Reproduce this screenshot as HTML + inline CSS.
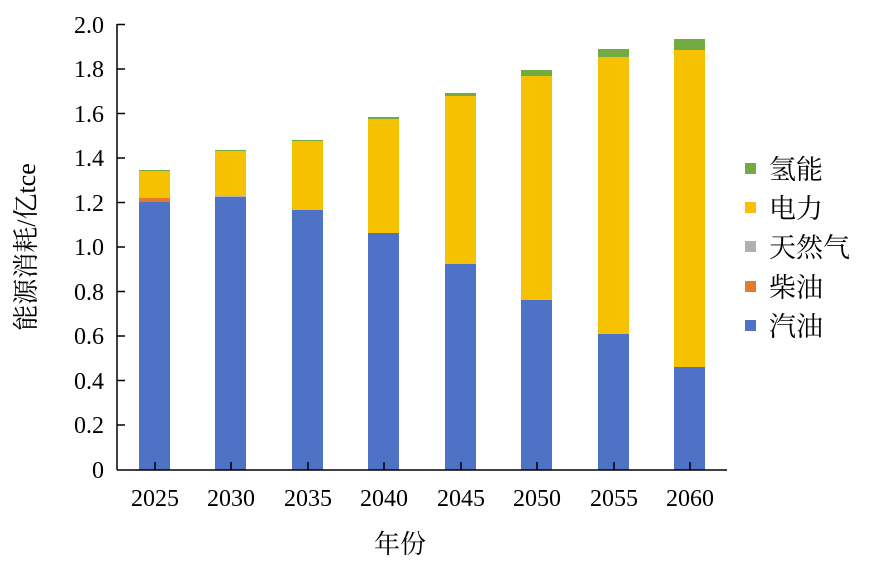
<!DOCTYPE html>
<html><head><meta charset="utf-8"><style>
body{margin:0;background:#fff}
svg text{fill:#000}
.n{font-family:"Liberation Serif","DejaVu Serif","Noto Serif CJK SC",serif}
.c{font-family:"Liberation Serif","Noto Serif CJK SC","Noto Sans CJK SC",serif}
</style></head><body>
<svg width="870" height="564" xmlns="http://www.w3.org/2000/svg">
<g>
<rect x="139" y="202" width="31" height="268" fill="#4e72c6"/>
<rect x="139" y="198" width="31" height="4" fill="#e37b2b"/>
<rect x="139" y="171" width="31" height="27" fill="#f6c100"/>
<rect x="139" y="170" width="31" height="1" fill="#72ab42"/>

<rect x="215" y="197" width="31" height="273" fill="#4e72c6"/>
<rect x="215" y="196" width="31" height="1" fill="#b0b0b0"/>
<rect x="215" y="151" width="31" height="45" fill="#f6c100"/>
<rect x="215" y="150" width="31" height="1" fill="#72ab42"/>

<rect x="292" y="210" width="31" height="260" fill="#4e72c6"/>
<rect x="292" y="141" width="31" height="69" fill="#f6c100"/>
<rect x="292" y="140" width="31" height="1" fill="#72ab42"/>

<rect x="368" y="233" width="31" height="237" fill="#4e72c6"/>
<rect x="368" y="119" width="31" height="114" fill="#f6c100"/>
<rect x="368" y="117" width="31" height="2" fill="#72ab42"/>

<rect x="445" y="264" width="31" height="206" fill="#4e72c6"/>
<rect x="445" y="96" width="31" height="168" fill="#f6c100"/>
<rect x="445" y="93" width="31" height="3" fill="#72ab42"/>

<rect x="521" y="300" width="31" height="170" fill="#4e72c6"/>
<rect x="521" y="76" width="31" height="224" fill="#f6c100"/>
<rect x="521" y="70" width="31" height="6" fill="#72ab42"/>

<rect x="598" y="334" width="31" height="136" fill="#4e72c6"/>
<rect x="598" y="57" width="31" height="277" fill="#f6c100"/>
<rect x="598" y="49" width="31" height="8" fill="#72ab42"/>

<rect x="674" y="367" width="31" height="103" fill="#4e72c6"/>
<rect x="674" y="50" width="31" height="317" fill="#f6c100"/>
<rect x="674" y="39" width="31" height="11" fill="#72ab42"/>
</g>
<g stroke="#000" stroke-width="1.5" fill="none">
<line x1="117" y1="24" x2="117" y2="470"/>
<line x1="117" y1="470" x2="727" y2="470"/>
<path d="M117 24.5h8M117 69h8M117 113.5h8M117 158h8M117 202.5h8M117 247h8M117 291.5h8M117 336h8M117 380.5h8M117 425h8"/>
<path d="M155 470v-8M231 470v-8M308 470v-8M384 470v-8M461 470v-8M537 470v-8M614 470v-8M690 470v-8"/>
</g>
<g class="n" font-size="24" text-anchor="end">
<text x="104" y="33">2.0</text><text x="104" y="77">1.8</text><text x="104" y="122">1.6</text>
<text x="104" y="166">1.4</text><text x="104" y="211">1.2</text><text x="104" y="255">1.0</text>
<text x="104" y="300">0.8</text><text x="104" y="344">0.6</text><text x="104" y="389">0.4</text>
<text x="104" y="433">0.2</text><text x="104" y="478">0</text>
</g>
<g class="n" font-size="24" text-anchor="middle">
<text x="155" y="506">2025</text><text x="231" y="506">2030</text><text x="308" y="506">2035</text>
<text x="384" y="506">2040</text><text x="461" y="506">2045</text><text x="537" y="506">2050</text>
<text x="614" y="506">2055</text><text x="690" y="506">2060</text>
</g>
<g class="c" font-size="26" text-anchor="middle">
<text x="400" y="553">年份</text>
<text transform="translate(35,247) rotate(-90)">能源消耗/亿tce</text>
</g>
<rect x="745" y="163" width="11" height="11" fill="#72ab42"/>
<rect x="745" y="202" width="11" height="11" fill="#f6c100"/>
<rect x="745" y="241" width="11" height="11" fill="#b0b0b0"/>
<rect x="745" y="281" width="11" height="11" fill="#e37b2b"/>
<rect x="745" y="320" width="11" height="11" fill="#4e72c6"/>
<g class="c" font-size="27">
<text x="769" y="179">氢能</text><text x="769" y="218">电力</text>
<text x="769" y="257">天然气</text><text x="769" y="297">柴油</text>
<text x="769" y="336">汽油</text>
</g>
</svg>
</body></html>
